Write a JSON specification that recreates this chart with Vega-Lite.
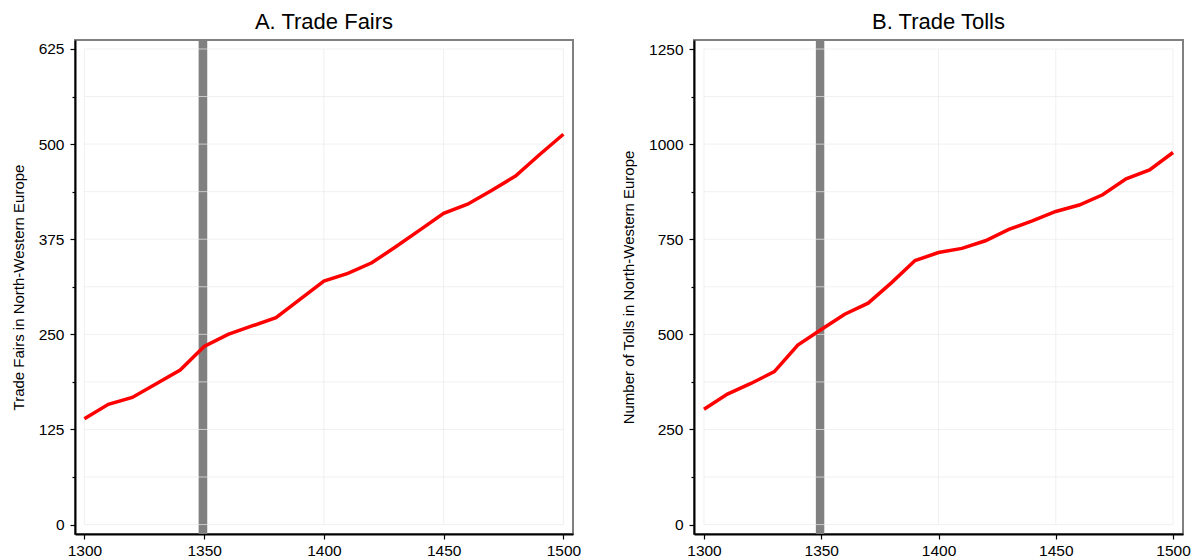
{
  "$schema": "https://vega.github.io/schema/vega-lite/v6.json",
  "padding": {"left": 10, "top": 10, "right": 5, "bottom": 3},
  "bounds": "flush",
  "spacing": 121,
  "config": {
    "font": "Liberation Sans",
    "view": {"stroke": "#808080", "strokeWidth": 2},
    "axis": {
      "labelFont": "Liberation Sans",
      "labelFontSize": 15.5,
      "labelColor": "#000000",
      "titleFont": "Liberation Sans",
      "titleFontSize": 15,
      "titleFontWeight": "normal",
      "titleColor": "#000000",
      "domainColor": "#000000",
      "domainWidth": 2,
      "tickColor": "#000000",
      "tickWidth": 1.2,
      "grid": false
    },
    "title": {"font": "Liberation Sans", "fontSize": 22, "fontWeight": "normal", "color": "#000000", "anchor": "middle", "offset": 6}
  },
  "datasets": {
    "fairs": [
      {"year": 1300, "fairs": 139},
      {"year": 1310, "fairs": 158},
      {"year": 1320, "fairs": 167},
      {"year": 1330, "fairs": 185},
      {"year": 1340, "fairs": 203},
      {"year": 1350, "fairs": 234},
      {"year": 1360, "fairs": 250},
      {"year": 1370, "fairs": 261},
      {"year": 1380, "fairs": 272},
      {"year": 1390, "fairs": 296},
      {"year": 1400, "fairs": 320},
      {"year": 1410, "fairs": 330},
      {"year": 1420, "fairs": 344},
      {"year": 1430, "fairs": 365},
      {"year": 1440, "fairs": 387},
      {"year": 1450, "fairs": 409},
      {"year": 1460, "fairs": 421},
      {"year": 1470, "fairs": 439},
      {"year": 1480, "fairs": 458},
      {"year": 1490, "fairs": 486},
      {"year": 1500, "fairs": 513}
    ],
    "tolls": [
      {"year": 1300, "tolls": 303},
      {"year": 1310, "tolls": 343},
      {"year": 1320, "tolls": 371},
      {"year": 1330, "tolls": 402},
      {"year": 1340, "tolls": 472},
      {"year": 1350, "tolls": 513},
      {"year": 1360, "tolls": 553},
      {"year": 1370, "tolls": 582},
      {"year": 1380, "tolls": 636},
      {"year": 1390, "tolls": 694},
      {"year": 1400, "tolls": 715},
      {"year": 1410, "tolls": 726},
      {"year": 1420, "tolls": 746},
      {"year": 1430, "tolls": 776},
      {"year": 1440, "tolls": 798},
      {"year": 1450, "tolls": 823},
      {"year": 1460, "tolls": 840},
      {"year": 1470, "tolls": 867},
      {"year": 1480, "tolls": 909},
      {"year": 1490, "tolls": 932},
      {"year": 1500, "tolls": 978}
    ],
    "plague": [{"start": 1347.7, "end": 1351.3}],
    "yearGrid": [{"year": 1300}, {"year": 1400}, {"year": 1450}, {"year": 1500}],
    "fairsGrid": [{"v": 0}, {"v": 62.5}, {"v": 125}, {"v": 187.5}, {"v": 250}, {"v": 312.5}, {"v": 375}, {"v": 437.5}, {"v": 500}, {"v": 562.5}, {"v": 625}],
    "tollsGrid": [{"v": 0}, {"v": 125}, {"v": 250}, {"v": 375}, {"v": 500}, {"v": 625}, {"v": 750}, {"v": 875}, {"v": 1000}, {"v": 1125}, {"v": 1250}]
  },
  "hconcat": [
    {
      "title": "A. Trade Fairs",
      "width": 498,
      "height": 494,
      "layer": [
        {
          "data": {"name": "plague"},
          "mark": {"type": "rect", "color": "#808080"},
          "encoding": {
            "x": {"field": "start", "type": "quantitative", "scale": {"domain": [1296.08, 1504.01], "nice": false, "zero": false}},
            "x2": {"field": "end"}
          }
        },
        {
          "data": {"name": "fairsGrid"},
          "mark": {"type": "rule", "color": "#e9e9e9", "opacity": 0.7, "strokeWidth": 1},
          "encoding": {
            "y": {"field": "v", "type": "quantitative", "scale": {"domain": [-12.4, 636.8], "nice": false, "zero": false}},
            "x": {"datum": 1300, "type": "quantitative", "scale": {"domain": [1296.08, 1504.01], "nice": false, "zero": false}},
            "x2": {"datum": 1500}
          }
        },
        {
          "data": {"name": "yearGrid"},
          "mark": {"type": "rule", "color": "#e9e9e9", "opacity": 0.7, "strokeWidth": 1},
          "encoding": {
            "x": {"field": "year", "type": "quantitative", "scale": {"domain": [1296.08, 1504.01], "nice": false, "zero": false}},
            "y": {"datum": 0, "type": "quantitative", "scale": {"domain": [-12.4, 636.8], "nice": false, "zero": false}},
            "y2": {"datum": 625}
          }
        },
        {
          "data": {"name": "fairs"},
          "mark": {"type": "line", "color": "#ff0000", "strokeWidth": 3.5},
          "encoding": {
            "x": {
              "field": "year", "type": "quantitative",
              "scale": {"domain": [1296.08, 1504.01], "nice": false, "zero": false},
              "axis": {"title": null, "values": [1300, 1350, 1400, 1450, 1500], "format": "d", "tickSize": 5, "labelPadding": 4, "labelFlush": false}
            },
            "y": {
              "field": "fairs", "type": "quantitative",
              "scale": {"domain": [-12.4, 636.8], "nice": false, "zero": false},
              "axis": {
                "title": "Trade Fairs in North-Western Europe",
                "values": [0, 62.5, 125, 187.5, 250, 312.5, 375, 437.5, 500, 562.5, 625],
                "labelExpr": "datum.value % 125 === 0 ? format(datum.value, 'd') : ''",
                "tickSize": {"condition": {"test": "datum.value % 125 !== 0", "value": 3}, "value": 5},
                "labelPadding": 6,
                "titlePadding": 12,
                "labelFlush": false
              }
            }
          }
        }
      ]
    },
    {
      "title": "B. Trade Tolls",
      "width": 489,
      "height": 494,
      "layer": [
        {
          "data": {"name": "plague"},
          "mark": {"type": "rect", "color": "#808080"},
          "encoding": {
            "x": {"field": "start", "type": "quantitative", "scale": {"domain": [1295.74, 1504.26], "nice": false, "zero": false}},
            "x2": {"field": "end"}
          }
        },
        {
          "data": {"name": "tollsGrid"},
          "mark": {"type": "rule", "color": "#e9e9e9", "opacity": 0.7, "strokeWidth": 1},
          "encoding": {
            "y": {"field": "v", "type": "quantitative", "scale": {"domain": [-24.7, 1273.7], "nice": false, "zero": false}},
            "x": {"datum": 1300, "type": "quantitative", "scale": {"domain": [1295.74, 1504.26], "nice": false, "zero": false}},
            "x2": {"datum": 1500}
          }
        },
        {
          "data": {"name": "yearGrid"},
          "mark": {"type": "rule", "color": "#e9e9e9", "opacity": 0.7, "strokeWidth": 1},
          "encoding": {
            "x": {"field": "year", "type": "quantitative", "scale": {"domain": [1295.74, 1504.26], "nice": false, "zero": false}},
            "y": {"datum": 0, "type": "quantitative", "scale": {"domain": [-24.7, 1273.7], "nice": false, "zero": false}},
            "y2": {"datum": 1250}
          }
        },
        {
          "data": {"name": "tolls"},
          "mark": {"type": "line", "color": "#ff0000", "strokeWidth": 3.5},
          "encoding": {
            "x": {
              "field": "year", "type": "quantitative",
              "scale": {"domain": [1295.74, 1504.26], "nice": false, "zero": false},
              "axis": {"title": null, "values": [1300, 1350, 1400, 1450, 1500], "format": "d", "tickSize": 5, "labelPadding": 4, "labelFlush": false}
            },
            "y": {
              "field": "tolls", "type": "quantitative",
              "scale": {"domain": [-24.7, 1273.7], "nice": false, "zero": false},
              "axis": {
                "title": "Number of Tolls in North-Western Europe",
                "values": [0, 125, 250, 375, 500, 625, 750, 875, 1000, 1125, 1250],
                "labelExpr": "datum.value % 250 === 0 ? format(datum.value, 'd') : ''",
                "tickSize": {"condition": {"test": "datum.value % 250 !== 0", "value": 3}, "value": 5},
                "labelPadding": 6,
                "titlePadding": 12,
                "labelFlush": false
              }
            }
          }
        }
      ]
    }
  ]
}
